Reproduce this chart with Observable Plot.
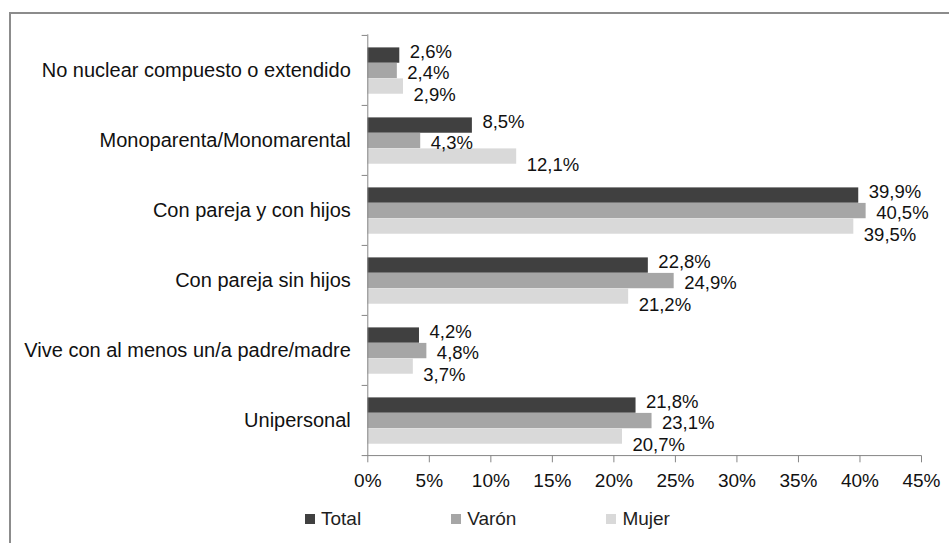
<!DOCTYPE html>
<html>
<head>
<meta charset="utf-8">
<script src="https://cdn.jsdelivr.net/npm/d3@7"></script>
<script src="https://cdn.jsdelivr.net/npm/@observablehq/plot@0.6"></script>
<style>
  html, body { margin: 0; padding: 0; background: #fff; }
  #wrap { position: relative; width: 949px; height: 543px; overflow: hidden; font-family: "Liberation Sans", Arial, sans-serif; }
  #border { position: absolute; left: 9px; top: 12px; width: 960px; height: 560px; border-left: 2px solid #8c8c8c; border-top: 2px solid #8c8c8c; }
  #chart { position: absolute; left: 0; top: 0; }
  #legend { position: absolute; left: 305px; top: 508px; display: flex; gap: 90px; font-size: 19px; color: #1e1e1e; line-height: 22px; }
  #legend .item { display: flex; align-items: center; }
  #legend .sw { width: 10px; height: 10px; margin-right: 6px; }
</style>
</head>
<body>
<div id="wrap">
  <div id="border"></div>
  <div id="chart"></div>
  <div id="legend"></div>
</div>
<script>
const categories = [
  "No nuclear compuesto o extendido",
  "Monoparenta/Monomarental",
  "Con pareja y con hijos",
  "Con pareja sin hijos",
  "Vive con al menos un/a padre/madre",
  "Unipersonal"
];
const seriesNames = ["Total", "Varón", "Mujer"];
const totalValues = [2.6, 8.5, 39.9, 22.8, 4.2, 21.8];
const varonValues = [2.4, 4.3, 40.5, 24.9, 4.8, 23.1];
const mujerValues = [2.9, 12.1, 39.5, 21.2, 3.7, 20.7];
const xTicks = [0, 5, 10, 15, 20, 25, 30, 35, 40, 45];

const colors = ["#404040", "#a6a6a6", "#d9d9d9"];
const seriesValues = [totalValues, varonValues, mujerValues];

const W = 949, H = 500;
const mTop = 34.3, mBottom = H - 455.3, mLeft = 367.3, mRight = W - 921;
const bw = (H - mTop - mBottom) / categories.length;
const barH = 15.5, firstInset = 12.4;

const rows = seriesValues.map((vals, s) =>
  categories.map((c, i) => ({category: c, value: vals[i], series: seriesNames[s]})));

const fmt = v => v.toFixed(1).replace(".", ",") + "%";

const marks = [];
rows.forEach((data, s) => {
  const top = firstInset + s * barH;
  marks.push(Plot.barX(data, {
    x: "value", y: "category", fill: colors[s],
    insetTop: top, insetBottom: bw - top - barH
  }));
});
// y axis line
marks.push(Plot.ruleX([0], {stroke: "#868686"}));
// category boundary ticks
marks.push(Plot.ruleY(categories, {y: d => d, x1: -0.46, x2: 0, dy: -bw / 2, stroke: "#868686"}));
// bottom axis line
marks.push(Plot.ruleY([categories[categories.length - 1]], {y: d => d, x1: -0.46, x2: 45, dy: bw / 2, stroke: "#868686"}));
// value labels
rows.forEach((data, s) => {
  marks.push(Plot.text(data, {
    x: "value", y: "category", text: d => fmt(d.value),
    textAnchor: "start", dx: 10, dy: 2.6 + (s - 1) * 21.5,
    fontSize: 18.5, fill: "#111"
  }));
});
marks.push(Plot.axisX({ticks: xTicks, tickFormat: d => d + "%", tickSize: 7, tickPadding: 11, stroke: "#868686", fontSize: 19, fill: "#111", label: null}));
marks.push(Plot.axisY({tickSize: 0, tickPadding: 17, fontSize: 20, fill: "#111", label: null}));

const chart = Plot.plot({
  width: W, height: H,
  marginTop: mTop, marginBottom: mBottom, marginLeft: mLeft, marginRight: mRight,
  x: {domain: [0, 45], axis: null},
  y: {domain: categories, padding: 0, axis: null},
  style: {fontFamily: '"Liberation Sans", Arial, sans-serif', fontSize: "19px", color: "#111", background: "transparent", overflow: "visible"},
  marks
});
document.getElementById("chart").appendChild(chart);

const legend = document.getElementById("legend");
seriesNames.forEach((name, s) => {
  const item = document.createElement("div");
  item.className = "item";
  const sw = document.createElement("span");
  sw.className = "sw";
  sw.style.background = colors[s];
  const t = document.createElement("span");
  t.textContent = name;
  item.appendChild(sw);
  item.appendChild(t);
  legend.appendChild(item);
});
</script>
</body>
</html>
